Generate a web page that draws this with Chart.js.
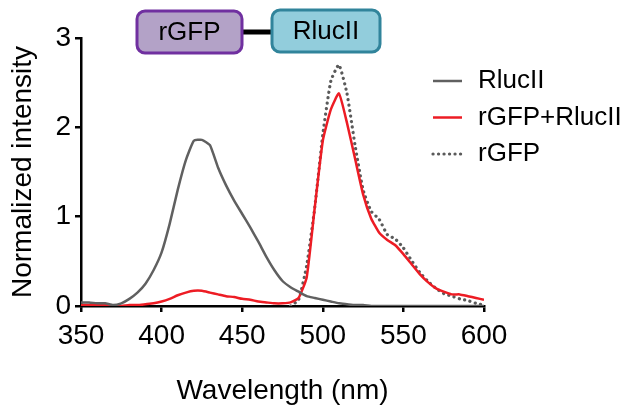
<!DOCTYPE html>
<html>
<head>
<meta charset="utf-8">
<script src="https://cdn.jsdelivr.net/npm/chart.js@4"></script>
<style>
  body { margin: 0; background: #fff; }
  #wrap { width: 623px; height: 408px; position: relative; }
</style>
</head>
<body>
<div id="wrap"><canvas id="spectra"></canvas></div>
<script>
// Emission wavelengths (nm)
const wavelengths = [350, 355, 360, 365, 370, 375, 380, 385, 390, 395,
    400, 405, 410, 415, 420, 425, 430, 435, 440, 445,
    450, 455, 460, 465, 470, 475, 480, 485, 490, 495,
    500, 505, 510, 515, 520, 525, 530, 535, 540, 545,
    550, 555, 560, 565, 570, 575, 580, 585, 590, 595, 600];

// Normalized intensities
const rlucII = [0.04, 0.04, 0.03, 0.03, 0.01, 0.03, 0.08, 0.15, 0.25, 0.40,
    0.60, 0.92, 1.30, 1.63, 1.85, 1.86, 1.80, 1.55, 1.35, 1.18,
    1.03, 0.88, 0.72, 0.55, 0.40, 0.28, 0.21, 0.16, 0.11, 0.09,
    0.07, 0.05, 0.03, 0.02, 0.01, 0.01, 0.00, 0.00, 0.00, 0.00,
    0.00, 0.00, 0.00, 0.00, 0.00, 0.00, 0.00, 0.00, 0.00, 0.00, 0.00];

const rgfpRlucII = [0.01, 0.01, 0.01, 0.01, 0.00, 0.00, 0.01, 0.01, 0.02, 0.03,
    0.05, 0.08, 0.12, 0.15, 0.17, 0.17, 0.15, 0.13, 0.11, 0.10,
    0.08, 0.07, 0.05, 0.04, 0.03, 0.03, 0.04, 0.09, 0.32, 1.10,
    1.85, 2.20, 2.38, 2.05, 1.65, 1.25, 0.98, 0.82, 0.74, 0.68,
    0.58, 0.47, 0.36, 0.27, 0.20, 0.16, 0.13, 0.13, 0.11, 0.09, 0.07];

const rgfp = [null, null, null, null, null, null, null, null, null, null,
    null, null, null, null, null, null, null, null, null, null,
    null, null, null, null, null, null, 0.00, 0.07, 0.45, 1.10,
    1.92, 2.52, 2.70, 2.38, 1.80, 1.30, 1.06, 0.97, 0.80, 0.75,
    0.65, 0.51, 0.38, 0.28, 0.20, 0.14, 0.11, 0.08, 0.06, 0.03, 0.01];

const seriesLabels = ['RlucII', 'rGFP+RlucII', 'rGFP'];
const xTicks = [350, 400, 450, 500, 550, 600];
const yTicks = [0, 1, 2, 3];

const FONT = "'Liberation Sans', Arial, sans-serif";

function points(values) {
    return wavelengths.map((w, i) => ({ x: w, y: values[i] }));
}

// Construct decoration: fusion construct boxes + legend
const decor = {
    id: 'decor',
    afterDraw(chart) {
        const ctx = chart.ctx;
        ctx.save();

        // linker between the two boxes
        ctx.strokeStyle = '#000';
        ctx.lineWidth = 5;
        ctx.beginPath();
        ctx.moveTo(240, 32);
        ctx.lineTo(274, 32);
        ctx.stroke();

        const boxes = [
            { text: 'rGFP', x: 137, y: 11, w: 105, h: 42, fill: '#b3a2c7', stroke: '#7030a0' },
            { text: 'RlucII', x: 272, y: 10, w: 108, h: 42, fill: '#92cddc', stroke: '#31849b' }
        ];
        boxes.forEach(b => {
            ctx.beginPath();
            ctx.roundRect(b.x, b.y, b.w, b.h, 8);
            ctx.fillStyle = b.fill;
            ctx.fill();
            ctx.lineWidth = 3;
            ctx.strokeStyle = b.stroke;
            ctx.stroke();
            ctx.fillStyle = '#000';
            ctx.font = '26px ' + FONT;
            ctx.textAlign = 'center';
            ctx.textBaseline = 'middle';
            ctx.fillText(b.text, b.x + b.w / 2, b.y + b.h / 2 + 1);
        });

        // legend
        ctx.font = '26px ' + FONT;
        ctx.textAlign = 'left';
        ctx.textBaseline = 'middle';
        chart.data.datasets.forEach((ds, i) => {
            const y = 81 + i * 36.5;
            ctx.strokeStyle = ds.borderColor;
            ctx.lineWidth = ds.borderWidth;
            ctx.lineCap = ds.borderCapStyle || 'butt';
            ctx.setLineDash(ds.borderDash || []);
            ctx.beginPath();
            ctx.moveTo(433, y);
            ctx.lineTo(462, y);
            ctx.stroke();
            ctx.setLineDash([]);
            ctx.fillStyle = '#000';
            ctx.fillText(ds.label, 478, y);
        });
        ctx.restore();
    }
};

new Chart(document.getElementById('spectra'), {
    type: 'line',
    data: {
        datasets: [{
            label: seriesLabels[0],
            data: points(rlucII),
            borderColor: '#606060',
            borderWidth: 2.5,
            pointRadius: 0,
            tension: 0.15
        }, {
            label: seriesLabels[1],
            data: points(rgfpRlucII),
            borderColor: '#ed1c24',
            borderWidth: 2.5,
            pointRadius: 0,
            tension: 0.15
        }, {
            label: seriesLabels[2],
            data: points(rgfp),
            borderColor: '#5a5a5a',
            borderWidth: 3.2,
            borderDash: [0.1, 5.4],
            borderCapStyle: 'round',
            pointRadius: 0,
            tension: 0.15
        }]
    },
    options: {
        responsive: true,
        maintainAspectRatio: false,
        animation: false,
        layout: { padding: { left: 0, right: 139, top: 38, bottom: 0 } },
        plugins: {
            legend: { display: false },
            tooltip: { enabled: false }
        },
        scales: {
            x: {
                type: 'linear',
                min: 350,
                max: 600,
                afterBuildTicks: s => { s.ticks = xTicks.map(v => ({ value: v })); },
                afterFit: s => { s.height = 102; },
                border: { color: '#000', width: 2.5 },
                grid: { drawOnChartArea: false, color: '#000', lineWidth: 2.5, tickLength: 6 },
                ticks: { color: '#000', font: { family: FONT, size: 28 }, padding: 7, maxRotation: 0 },
                title: { display: true, text: 'Wavelength (nm)', color: '#000',
                    font: { family: FONT, size: 28 }, padding: { top: 0, bottom: 0 } }
            },
            y: {
                min: 0,
                max: 3,
                afterBuildTicks: s => { s.ticks = yTicks.map(v => ({ value: v })); },
                afterFit: s => { s.width = 81; },
                border: { color: '#000', width: 2.5 },
                grid: { drawOnChartArea: false, color: '#000', lineWidth: 2.5, tickLength: 6 },
                ticks: { color: '#000', font: { family: FONT, size: 28 }, padding: 4 },
                title: { display: true, text: 'Normalized intensity', color: '#000',
                    font: { family: FONT, size: 28 }, padding: { top: 6, bottom: 0 } }
            }
        }
    },
    plugins: [decor]
});
</script>
</body>
</html>
